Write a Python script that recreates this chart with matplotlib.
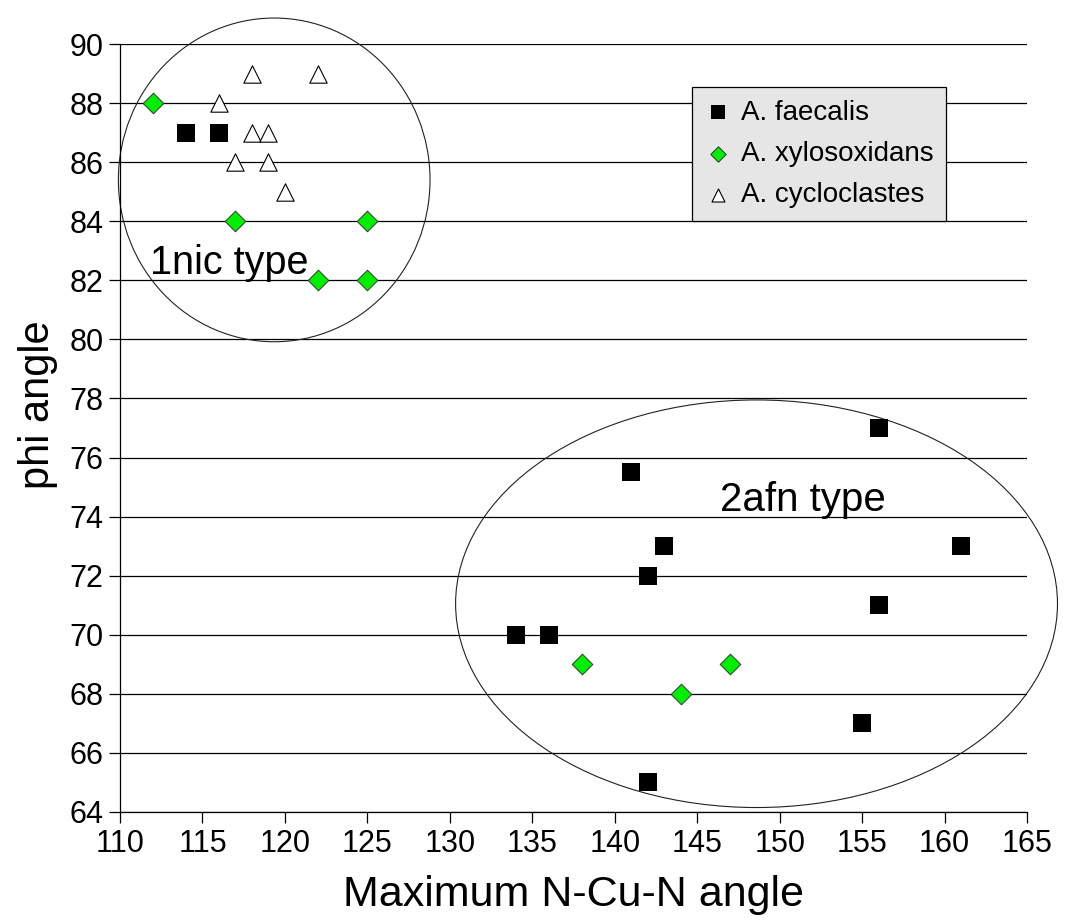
import matplotlib.pyplot as plt
from matplotlib.patches import Ellipse

plt.rcParams['font.family'] = ['Liberation Sans', 'DejaVu Sans']

# A. faecalis
faecalis_x = [114, 116, 156, 141, 143, 161, 142, 156, 134, 136, 155, 142]
faecalis_y = [87, 87, 77, 75.5, 73, 73, 72, 71, 70, 70, 67, 65]

# A. xylosoxidans
xylo_x = [112, 117, 125, 122, 125, 138, 144, 147]
xylo_y = [88, 84, 84, 82, 82, 69, 68, 69]

# A. cycloclastes
cyclo_x = [118, 122, 116, 118, 119, 117, 119, 120]
cyclo_y = [89, 89, 88, 87, 87, 86, 86, 85]

x_ticks = list(range(110, 166, 5))
y_ticks = list(range(64, 91, 2))

fig = plt.figure(figsize=(10.65, 9.23), dpi=100)
ax = fig.add_axes([0.1127, 0.1203, 0.8516, 0.8320])

ax.scatter(faecalis_x, faecalis_y, marker='s', s=13**2, c='black',
           linewidths=0, label='A. faecalis', zorder=3)
ax.scatter(xylo_x, xylo_y, marker='D', s=10.5**2, c='#00ee00',
           edgecolors='#333333', linewidths=0.7, label='A. xylosoxidans', zorder=3)
ax.scatter(cyclo_x, cyclo_y, marker='^', s=12.5**2, c='white',
           edgecolors='black', linewidths=0.8, label='A. cycloclastes', zorder=3)

# group outlines
ax.add_patch(Ellipse((119.35, 85.4), 18.9, 10.96, fill=False, edgecolor='#222222',
                     linewidth=0.8, clip_on=False, zorder=2))
ax.add_patch(Ellipse((148.6, 71.05), 36.5, 13.8, fill=False, edgecolor='#222222',
                     linewidth=0.8, clip_on=False, zorder=2))
ax.text(111.8, 82.6, '1nic type', fontsize=28.5, va='center', ha='left', zorder=4)
ax.text(146.4, 74.55, '2afn type', fontsize=29, va='center', ha='left', zorder=4)

ax.set_xlim(110, 165)
ax.set_ylim(64, 90)
ax.set_xticks(x_ticks)
ax.set_yticks(y_ticks)
ax.yaxis.grid(True, color='black', linewidth=0.9)
ax.set_axisbelow(True)
for side in ['top', 'right']:
    ax.spines[side].set_visible(False)
ax.spines['left'].set_linewidth(0.9)
ax.spines['bottom'].set_linewidth(0.9)
ax.tick_params(axis='both', which='major', labelsize=22, length=8, width=0.9,
               direction='out', pad=4)

ax.set_xlabel('Maximum N-Cu-N angle', fontsize=31, labelpad=12)
ax.set_ylabel('phi angle', fontsize=30)
ax.yaxis.set_label_coords(-0.068, 0.53)

leg = ax.legend(loc='upper left', bbox_to_anchor=(0.6307, 0.944), borderaxespad=0,
                fontsize=20, frameon=True, fancybox=False, markerscale=0.75,
                handletextpad=0.3, handlelength=1.0, borderpad=0.45, labelspacing=0.55)
leg.get_frame().set_facecolor('#e6e6e6')
leg.get_frame().set_edgecolor('black')
leg.get_frame().set_linewidth(0.9)
leg.get_frame().set_alpha(1)

plt.savefig('out.png', dpi=100)
